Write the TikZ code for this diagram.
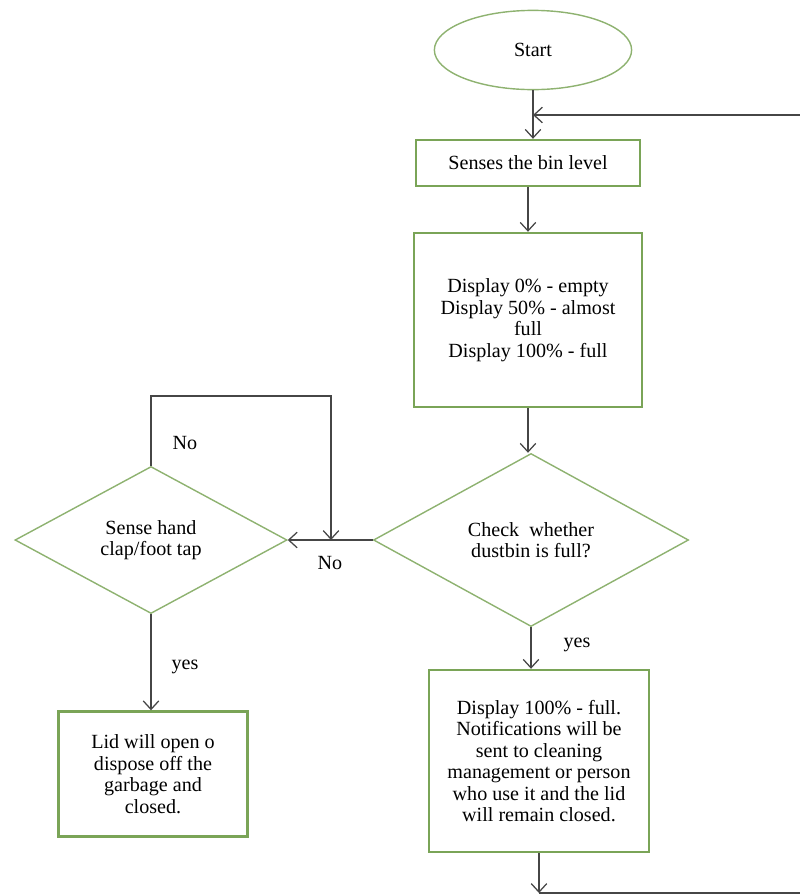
\documentclass[tikz,border=0pt]{standalone}
\usepackage{fontspec}
\setmainfont{Liberation Serif}
\usetikzlibrary{shapes.geometric,arrows.meta}
\definecolor{boxgreen}{RGB}{122,164,87}
\definecolor{linegray}{RGB}{70,70,70}
\begin{document}
\begin{tikzpicture}[x=0.025cm, y=-0.025cm, >={Straight Barb[length=6pt,width=11pt]},
    every node/.style={font=\fontsize{14.3}{15.3}\selectfont},
    proc/.style={draw=boxgreen, line width=1.7pt, rectangle, align=center, inner sep=0pt},
    decision/.style={draw=boxgreen!85, line width=1pt, diamond, align=center, inner sep=0pt},
    term/.style={draw=boxgreen!85, line width=1pt, ellipse, inner sep=0pt},
    flow/.style={draw=linegray, line width=0.9pt}]
    \useasboundingbox (0,0) rectangle (800,896);
    % main column
    \node[term, minimum width=4.93cm, minimum height=1.98cm] (start) at (533,50) {Start};
    \node[proc, minimum width=5.6cm, minimum height=1.15cm] (senses) at (528,163) {Senses the bin level};
    \node[proc, minimum width=5.7cm, minimum height=4.35cm] (display) at (528,320)
        {Display 0\% - empty\\Display 50\% - almost\\full\\Display 100\% - full};
    \node[decision, minimum width=7.875cm, minimum height=4.325cm] (check) at (531,540)
        {Check~ whether\\dustbin is full?};
    \node[proc, minimum width=5.5cm, minimum height=4.55cm] (notify) at (539,761)
        {Display 100\% - full.\\Notifications will be\\sent to cleaning\\management or person\\who use it and the lid\\will remain closed.};
    % left column
    \node[decision, minimum width=6.8cm, minimum height=3.675cm] (sense) at (151,540)
        {Sense hand\\clap/foot tap};
    \node[proc, minimum width=4.725cm, minimum height=3.125cm] (lid) at (153,774)
        {Lid will open o\\dispose off the\\garbage and\\closed.};
    % labels
    \node (no1) at (185,443) {No};
    \node (no2) at (330,563) {No};
    \node (yes1) at (577,645) {yes};
    \node (yes2) at (185,667) {yes};
    % loop points
    \coordinate (rtop) at (806,115);
    \coordinate (rbot) at (806,893);
    \coordinate (nocorner) at (331,396);
    \coordinate (nojoin) at (331,540);
    % connectors
    \draw[flow,->] (start.south) -- (start.south |- senses.north);
    \draw[flow,->] (senses.south) -- (senses.south |- display.north);
    \draw[flow,->] (display.south) -- (display.south |- check.north);
    \draw[flow,->] (check.south) -- (check.south |- notify.north);
    \draw[flow,->] (check.west) -- (sense.east);
    \draw[flow,->] (sense.south) -- (sense.south |- lid.north);
    \draw[flow,->] (sense.north) |- (nocorner) -- (nojoin);
    \draw[flow,->] (notify.south) -- (notify.south |- rbot);
    \draw[flow] (notify.south |- rbot) -- (rbot) -- (rtop);
    \draw[flow,->] (rtop) -- (start.south |- rtop);
\end{tikzpicture}
\end{document}
